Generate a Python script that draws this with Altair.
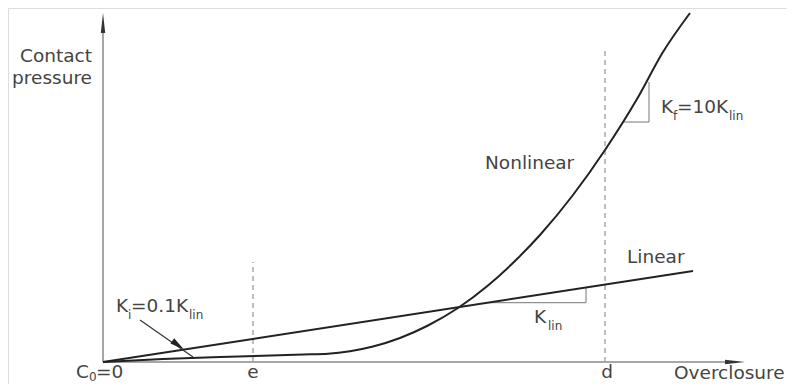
import altair as alt
import pandas as pd

# ---- data (x: overclosure units, y: contact pressure units) ----
linear_x = [0, 590]
linear_y = [0, 91]

nonlin_x = [0, 60, 117, 160, 200, 225, 247, 270, 297, 325, 355, 385, 415, 437, 470, 502, 534, 560, 587]
nonlin_y = [0, 3, 5, 6.3, 7.5, 8.3, 10.8, 15.5, 24, 36.5, 54, 76.5, 104, 127, 167, 212, 263, 310, 349]

e_pos = 150
d_pos = 502
e_top = 100
d_top = 312

# slope triangles
klin_tri_x = [385, 483, 483]
klin_tri_y = [59.3, 59.3, 74.5]
kf_tri_x = [520, 546, 546]
kf_tri_y = [240, 240, 280]

# K_i annotation arrow
arrow_x = [37, 90]
arrow_y = [42, 5]
arrowhead = (75, 17)

# text pieces: text, x, y, size
left_texts = [
    ("Nonlinear", 382, 193, 18.5),
    ("Linear", 524, 99, 18.5),
    ("K", 431, 39, 18.5), ("lin", 445, 32, 12),
    ("K", 558, 249, 18.5), ("f", 570, 242, 12), ("=10K", 574, 249, 18.5), ("lin", 626, 242, 12),
    ("K", 13, 50, 18.5), ("i", 25, 43, 12), ("=0.1K", 28, 50, 18.5), ("lin", 86, 43, 12),
    ("C", -27, -16, 18.5), ("0", -14, -19, 12), ("=0", -7, -16, 18.5),
    ("Overclosure", 571, -17, 18.5),
]
right_texts = [
    ("Contact", -11, 300, 18.5),
    ("pressure", -11, 278, 18.5),
]
center_texts = [
    ("e", e_pos, -16, 18.5),
    ("d", d_pos + 2, -16, 18.5),
]

X = alt.Scale(domain=[-95, 684], nice=False, zero=False)
Y = alt.Scale(domain=[-22, 354], nice=False, zero=False)
xe = lambda f: alt.X(f, type="quantitative", scale=X, axis=None)
ye = lambda f: alt.Y(f, type="quantitative", scale=Y, axis=None)

# axes lines
axes_df = pd.DataFrame({"x": [0, 0], "y": [0, 0], "x2": [0, 625], "y2": [332, 0]})
axes = alt.Chart(axes_df).mark_rule(color="#8a8a8a", strokeWidth=1.5).encode(
    x=xe("x"), y=ye("y"), x2="x2", y2="y2")

dash_df = pd.DataFrame({"x": [e_pos, d_pos], "y": [0, 0], "y2": [e_top, d_top]})
dashes = alt.Chart(dash_df).mark_rule(color="#a8a8a8", strokeWidth=1.5, strokeDash=[5, 4]).encode(
    x=xe("x"), y=ye("y"), y2="y2")

lin_df = pd.DataFrame({"x": linear_x, "y": linear_y})
lin = alt.Chart(lin_df).mark_line(color="#222", strokeWidth=2).encode(x=xe("x"), y=ye("y"))

nl_df = pd.DataFrame({"x": nonlin_x, "y": nonlin_y})
nl = alt.Chart(nl_df).mark_line(color="#222", strokeWidth=2, interpolate="monotone").encode(
    x=xe("x"), y=ye("y"))

tri_df = pd.DataFrame({
    "x": klin_tri_x + kf_tri_x,
    "y": klin_tri_y + kf_tri_y,
    "g": ["a"] * 3 + ["b"] * 3,
    "o": [0, 1, 2] * 2,
})
tris = alt.Chart(tri_df).mark_line(color="#777", strokeWidth=1).encode(
    x=xe("x"), y=ye("y"), detail="g:N", order="o:Q")

arr_df = pd.DataFrame({"x": arrow_x, "y": arrow_y})
arr = alt.Chart(arr_df).mark_line(color="#333", strokeWidth=1.2).encode(x=xe("x"), y=ye("y"))

ah_df = pd.DataFrame({"x": [arrowhead[0]], "y": [arrowhead[1]]})
ah = alt.Chart(ah_df).mark_point(
    shape="M0,-1L0.45,1L-0.45,1Z", filled=True, color="#222", opacity=1, size=200, angle=126
).encode(x=xe("x"), y=ye("y"))

yarrow = alt.Chart(pd.DataFrame({"x": [0], "y": [339]})).mark_point(
    shape="M0,-1L0.22,1L-0.22,1Z", filled=True, color="#333", opacity=1, size=400
).encode(x=xe("x"), y=ye("y"))
xarrow = alt.Chart(pd.DataFrame({"x": [632], "y": [0]})).mark_point(
    shape="M1,0L-1,-0.22L-1,0.22Z", filled=True, color="#333", opacity=1, size=400
).encode(x=xe("x"), y=ye("y"))


def text_layer(rows, align):
    df = pd.DataFrame(rows, columns=["t", "x", "y", "s"])
    return alt.Chart(df).mark_text(
        align=align, baseline="alphabetic", font="DejaVu Sans", color="#444"
    ).encode(x=xe("x"), y=ye("y"), text="t:N", size=alt.Size("s:Q", scale=None, legend=None))


chart = alt.layer(
    axes, dashes, tris, lin, nl, arr, ah, yarrow, xarrow,
    text_layer(left_texts, "left"),
    text_layer(right_texts, "right"),
    text_layer(center_texts, "center"),
).properties(
    width=779, height=376, padding=0, autosize=alt.AutoSizeParams(type="none")
).configure_view(stroke=None).configure(background="white")

chart.save("out.html", embed_options={"renderer": "svg", "actions": False})
